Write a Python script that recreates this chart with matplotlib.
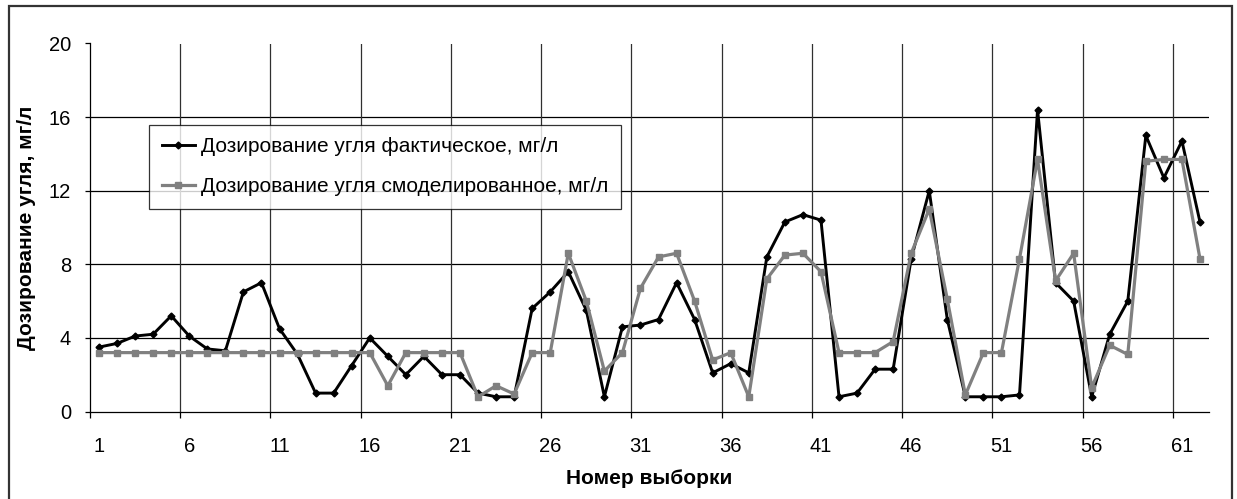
import matplotlib
matplotlib.use("Agg")
import matplotlib.pyplot as plt
from matplotlib.patches import Rectangle
from matplotlib.ticker import FixedLocator

plt.rcParams['font.family'] = ['Liberation Sans', 'DejaVu Sans']

samples = list(range(1, 63))
actual = [3.5, 3.7, 4.1, 4.2, 5.2, 4.1, 3.4, 3.3, 6.5, 7.0,
          4.5, 3.1, 1.0, 1.0, 2.5, 4.0, 3.0, 2.0, 3.0, 2.0,
          2.0, 1.0, 0.8, 0.8, 5.6, 6.5, 7.6, 5.5, 0.8, 4.6,
          4.7, 5.0, 7.0, 5.0, 2.1, 2.6, 2.1, 8.4, 10.3, 10.7,
          10.4, 0.8, 1.0, 2.3, 2.3, 8.3, 12.0, 5.0, 0.8, 0.8,
          0.8, 0.9, 16.4, 7.0, 6.0, 0.8, 4.2, 6.0, 15.0, 12.7,
          14.7, 10.3]
modeled = [3.2, 3.2, 3.2, 3.2, 3.2, 3.2, 3.2, 3.2, 3.2, 3.2,
           3.2, 3.2, 3.2, 3.2, 3.2, 3.2, 1.4, 3.2, 3.2, 3.2,
           3.2, 0.8, 1.4, 0.95, 3.2, 3.2, 8.6, 6.0, 2.2, 3.2,
           6.7, 8.4, 8.6, 6.0, 2.8, 3.2, 0.8, 7.2, 8.5, 8.6,
           7.6, 3.2, 3.2, 3.2, 3.8, 8.6, 11.0, 6.1, 0.9, 3.2,
           3.2, 8.3, 13.7, 7.1, 8.6, 1.3, 3.6, 3.1, 13.6, 13.7,
           13.7, 8.3]
x_tick_labels = [1, 6, 11, 16, 21, 26, 31, 36, 41, 46, 51, 56, 61]
y_ticks = [0, 4, 8, 12, 16, 20]

W, H = 1237, 499
fig = plt.figure(figsize=(W / 100, H / 100), dpi=100)
ax = fig.add_axes([90 / W, 1 - 411.5 / H, 1119 / W, 368 / H])

ax.set_xlim(0.5, 62.5)
ax.set_ylim(0, 20)

# grid
for y in y_ticks[1:-1]:
    ax.axhline(y, color='black', lw=0.9, zorder=1)
ax.axhline(20, color='#c8c8c8', lw=1.2, zorder=1)
boundaries = [b - 0.5 for b in x_tick_labels[1:]]
for b in boundaries:
    ax.axvline(b, color='#303030', lw=0.9, zorder=1)

ax.plot(samples, actual, color='black', lw=2.1, marker='D', markersize=3.5,
        label='Дозирование угля фактическое, мг/л', zorder=3)
ax.plot(samples, modeled, color='#808080', lw=2.3, marker='s', markersize=4.2,
        label='Дозирование угля смоделированное, мг/л', zorder=4)

ax.set_yticks(y_ticks)
ax.set_xticks(x_tick_labels)
ax.set_xticklabels([str(v) for v in x_tick_labels])
ax.xaxis.set_minor_locator(FixedLocator([0.5] + boundaries))
ax.tick_params(axis='x', which='major', length=0, pad=18, labelsize=14.5)
ax.tick_params(axis='x', which='minor', length=4.5, width=0.9, color='black', direction='out')
ax.tick_params(axis='y', length=3.6, width=0.9, color='black', direction='out', pad=10, labelsize=14.5)

for s in ['top', 'right']:
    ax.spines[s].set_visible(False)
for s in ['left', 'bottom']:
    ax.spines[s].set_color('black')
    ax.spines[s].set_linewidth(0.9)

ax.set_xlabel('Номер выборки', fontsize=15, fontweight='bold', labelpad=10)
ax.set_ylabel('Дозирование угля, мг/л', fontsize=15, fontweight='bold', labelpad=9)

leg = ax.legend(loc='upper left', bbox_to_anchor=((149 - 90) / 1119, (411.5 - 125) / 368),
                frameon=True, fancybox=False, shadow=False, fontsize=15,
                handlelength=1.6, handletextpad=0.3, labelspacing=1.0,
                borderpad=0.6, borderaxespad=0)
leg.get_frame().set_edgecolor('black')
leg.get_frame().set_linewidth(0.9)
leg.set_zorder(10)

fig.patches.append(Rectangle((9 / W, -0.02), (1232 - 9) / W, (H - 6) / H + 0.02,
                             transform=fig.transFigure, fill=False,
                             edgecolor='#333333', lw=1.6))

fig.savefig('out.png', dpi=100)
